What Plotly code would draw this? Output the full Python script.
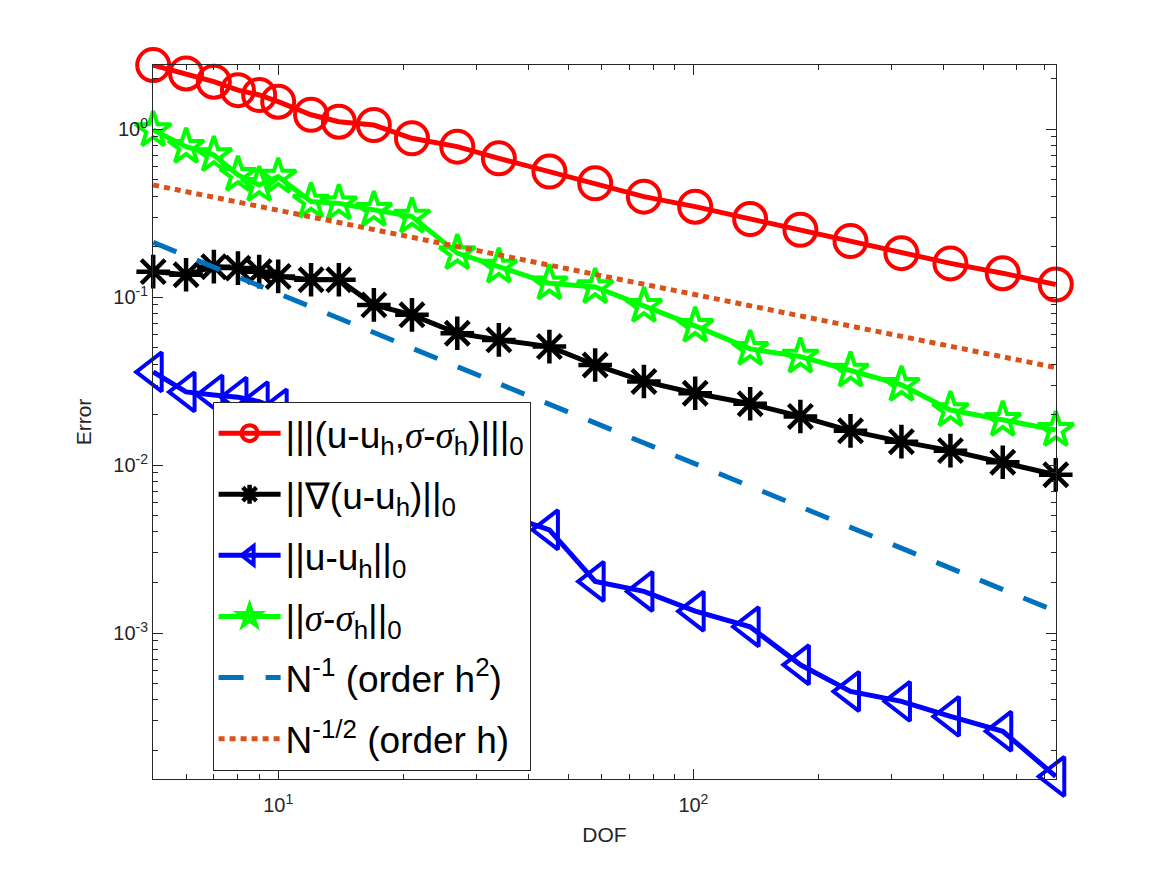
import plotly.graph_objects as go

# ---- data ----
dof = [5, 6, 7, 8, 9, 10, 12, 14, 17, 21, 27, 34, 45, 58, 76, 101, 137, 181, 239, 317, 416, 556, 746]

err_energy = [2.41, 2.15, 1.92, 1.71, 1.60, 1.46, 1.22, 1.11, 1.06, 0.884, 0.788, 0.671, 0.560,
              0.477, 0.397, 0.346, 0.292, 0.252, 0.216, 0.183, 0.159, 0.139, 0.119]
err_grad = [0.142, 0.136, 0.152, 0.149, 0.142, 0.133, 0.127, 0.127, 0.090, 0.0785, 0.061, 0.0557,
            0.0508, 0.0395, 0.0315, 0.0268, 0.0232, 0.0195, 0.0160, 0.0138, 0.0122, 0.0104, 0.00876]
err_l2 = [0.0359, 0.0273, 0.0262, 0.0254, 0.0239, 0.0216, 0.017, 0.014, 0.011, 0.0085, 0.0068,
          0.0052, 0.00412, 0.00203, 0.00177, 0.00135, 0.00109, 0.000647, 0.000449, 0.000392,
          0.000319, 0.000260, 0.000140]
err_sigma = [0.99, 0.787, 0.703, 0.535, 0.466, 0.522, 0.371, 0.362, 0.331, 0.302, 0.183, 0.152,
             0.121, 0.115, 0.0887, 0.0675, 0.0492, 0.0443, 0.0366, 0.0301, 0.0213, 0.0186, 0.0162]

ref_x = [5, 746]
ref_order2 = [0.212, 0.00135]
ref_order1 = [0.466, 0.0381]

SIG = '<span style="font-family:Liberation Serif, DejaVu Serif, serif"><i>σ</i></span>'
names = [
    "|||(u-u<sub>h</sub>," + SIG + "-" + SIG + "<sub>h</sub>)|||<sub>0</sub>",
    "||∇(u-u<sub>h</sub>)||<sub>0</sub>",
    "||u-u<sub>h</sub>||<sub>0</sub>",
    "||" + SIG + "-" + SIG + "<sub>h</sub>||<sub>0</sub>",
    "N<sup>-1</sup> (order h<sup>2</sup>)",
    "N<sup>-1/2</sup> (order h)",
]

x_tickvals = [10, 100]
x_ticktext = ["10<sup>1</sup>", "10<sup>2</sup>"]
y_tickvals = [1e-3, 1e-2, 1e-1, 1]
y_ticktext = ["10<sup>-3</sup>", "10<sup>-2</sup>", "10<sup>-1</sup>", "10<sup>0</sup>"]

x_minor = [m * 10 ** e for e in range(0, 3) for m in range(2, 10)]
y_minor = [m * 10 ** e for e in range(-4, 1) for m in range(2, 10)]

AX = "#262626"
FONT = "Liberation Sans, Arial, Helvetica, sans-serif"

fig = go.Figure()

fig.add_trace(go.Scatter(x=dof, y=err_energy, name=names[0], mode="lines+markers",
                         legendgroup="g1", cliponaxis=False,
                         line=dict(color="#FF0000", width=5),
                         marker=dict(symbol="circle-open", size=32, color="#FF0000",
                                     line=dict(width=4, color="#FF0000"))))
fig.add_trace(go.Scatter(x=dof, y=err_grad, name=names[1], mode="lines+markers",
                         legendgroup="g2", cliponaxis=False,
                         line=dict(color="#000000", width=5),
                         marker=dict(symbol="asterisk-open", size=28, color="#000000",
                                     line=dict(width=4.5, color="#000000"))))
fig.add_trace(go.Scatter(x=dof, y=err_l2, name=names[2], mode="lines+markers",
                         legendgroup="g3", cliponaxis=False,
                         line=dict(color="#0000FF", width=5),
                         marker=dict(symbol="triangle-left-open", size=34, color="#0000FF",
                                     line=dict(width=4, color="#0000FF"))))
fig.add_trace(go.Scatter(x=dof, y=err_sigma, name=names[3], mode="lines+markers",
                         legendgroup="g4", cliponaxis=False,
                         line=dict(color="#00FF00", width=5),
                         marker=dict(symbol="star-open", size=27, color="#00FF00",
                                     line=dict(width=4, color="#00FF00"))))
fig.add_trace(go.Scatter(x=ref_x, y=ref_order2, name=names[4], mode="lines",
                         legendgroup="g5",
                         line=dict(color="#0072BD", width=5, dash="25px,22px")))
fig.add_trace(go.Scatter(x=ref_x, y=ref_order1, name=names[5], mode="lines",
                         legendgroup="g6",
                         line=dict(color="#D95319", width=5, dash="6px,5px")))

axis_common = dict(
    type="log", showgrid=False, zeroline=False,
    showline=True, linecolor=AX, linewidth=1, mirror="allticks",
    ticks="inside", ticklen=10, tickwidth=1, tickcolor=AX,
    tickfont=dict(family=FONT, size=20, color=AX),
    title_font=dict(family=FONT, size=21, color=AX),
)

fig.update_xaxes(axis_common, range=[0.6985, 2.8733],
                 tickmode="array", tickvals=x_tickvals, ticktext=x_ticktext,
                 minor=dict(tickmode="array", tickvals=x_minor, ticks="inside", ticklen=5,
                            tickcolor=AX, tickwidth=1, showgrid=False),
                 title_text="DOF", title_standoff=12, ticklabelstandoff=8)
fig.update_yaxes(axis_common, range=[-3.869, 0.3827],
                 tickmode="array", tickvals=y_tickvals, ticktext=y_ticktext,
                 minor=dict(tickmode="array", tickvals=y_minor, ticks="inside", ticklen=5,
                            tickcolor=AX, tickwidth=1, showgrid=False),
                 title_text="Error", title_standoff=15, ticklabelstandoff=0)

fig.update_layout(
    width=1167, height=875,
    margin=dict(l=145, r=119, t=57, b=104, autoexpand=False),
    paper_bgcolor="white", plot_bgcolor="white",
    font=dict(family=FONT, color="#000000"),
    showlegend=True,
    legend=dict(x=0.066, y=0.5286, xanchor="left", yanchor="top",
                bgcolor="white", bordercolor=AX, borderwidth=1,
                font=dict(family=FONT, size=37, color="#000000"),
                itemwidth=62, traceorder="grouped", tracegroupgap=10),
)

fig.write_html("out.html")
